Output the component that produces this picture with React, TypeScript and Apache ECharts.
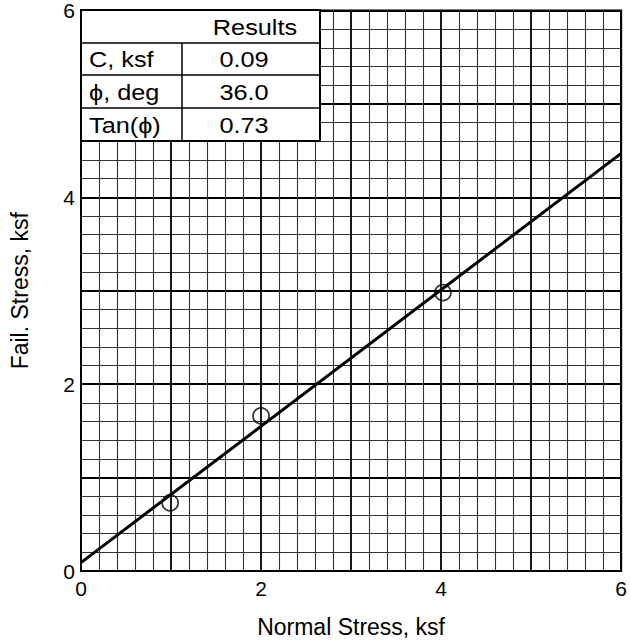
import React, { useEffect, useRef } from "react";
import * as echarts from "echarts";

const FONT = "'Liberation Sans', Arial, Helvetica, sans-serif";

// Test points (normal stress, failure stress), ksf
const pointX = [0.99, 2.0, 4.02];
const pointY = [0.73, 1.66, 2.98];

// Fitted envelope end points
const fitX = [0, 6];
const fitY = [0.09, 4.47];

// Results table
const tableHeader = "Results";
const tableLabels = ["C, ksf", "\u03d5, deg", "Tan(\u03d5)"];
const tableValues = ["0.09", "36.0", "0.73"];

const xTickLabels = ["0", "2", "4", "6"];
const yTickLabels = ["0", "2", "4", "6"];

export default function App() {
  const ref = useRef<HTMLDivElement>(null);

  useEffect(() => {
    document.body.style.margin = "0";
    if (!ref.current) return;
    const chart = echarts.init(ref.current, null, { renderer: "svg" });

    const gridLeft = 81;
    const gridTop = 10;
    const tw = 239;
    const th = 131;
    const colX = 101;
    const rowY = [0, 33, 65, 98, 131];
    const Z = 100;

    const tableChildren: any[] = [
      {
        type: "rect",
        z: Z,
        shape: { x: 0, y: 0, width: tw, height: th },
        style: { fill: "#fff", stroke: "#000", lineWidth: 2 },
      },
    ];
    for (let i = 1; i < 4; i++) {
      tableChildren.push({
        type: "line",
        z: Z + 1,
        shape: { x1: 0, y1: rowY[i], x2: tw, y2: rowY[i] },
        style: { stroke: "#000", lineWidth: 1.5 },
      });
    }
    tableChildren.push({
      type: "line",
      z: Z + 1,
      shape: { x1: colX, y1: rowY[1], x2: colX, y2: th },
      style: { stroke: "#000", lineWidth: 1.5 },
    });
    tableChildren.push({
      type: "text",
      z: Z + 2,
      x: 174,
      y: (rowY[0] + rowY[1]) / 2 + 1,
      scaleX: 1.15,
      style: {
        text: tableHeader,
        font: `22px ${FONT}`,
        fill: "#000",
        align: "center",
        verticalAlign: "middle",
      },
    });
    tableLabels.forEach((lab, i) => {
      const cy = (rowY[i + 1] + rowY[i + 2]) / 2 + 1;
      tableChildren.push({
        type: "text",
        z: Z + 2,
        x: 8,
        y: cy,
        scaleX: 1.15,
        style: {
          text: lab,
          font: `22px ${FONT}`,
          fill: "#000",
          align: "left",
          verticalAlign: "middle",
        },
      });
      tableChildren.push({
        type: "text",
        z: Z + 2,
        x: 163,
        y: cy,
        scaleX: 1.15,
        style: {
          text: tableValues[i],
          font: `22px ${FONT}`,
          fill: "#000",
          align: "center",
          verticalAlign: "middle",
        },
      });
    });

    const axisCommon = {
      type: "value" as const,
      min: 0,
      max: 6,
      interval: 1,
      axisLine: { show: true, lineStyle: { color: "#000", width: 2 } },
      axisTick: { show: false },
      splitLine: { show: true, lineStyle: { color: "#000", width: 1.8 } },
      minorTick: { show: false, splitNumber: 5 },
      minorSplitLine: { show: true, lineStyle: { color: "#333", width: 1.1 } },
      nameLocation: "middle" as const,
      nameTextStyle: { fontFamily: FONT, fontSize: 23, color: "#000" },
    };

    chart.setOption({
      animation: false,
      backgroundColor: "#fff",
      grid: {
        left: gridLeft,
        right: 3,
        top: gridTop,
        bottom: 70,
        show: true,
        borderColor: "#000",
        borderWidth: 2,
        backgroundColor: "transparent",
      },
      xAxis: {
        ...axisCommon,
        name: "Normal Stress, ksf",
        nameGap: 44,
        axisLabel: {
          fontFamily: FONT,
          fontSize: 21,
          color: "#000",
          margin: 7,
          formatter: (v: number) => {
            const s = String(v);
            return xTickLabels.includes(s) ? s : "";
          },
        },
      },
      yAxis: {
        ...axisCommon,
        name: "Fail. Stress, ksf",
        nameGap: 50,
        axisLabel: {
          fontFamily: FONT,
          fontSize: 21,
          color: "#000",
          margin: 6,
          formatter: (v: number) => {
            const s = String(v);
            return yTickLabels.includes(s) ? s : "";
          },
        },
      },
      series: [
        {
          type: "line",
          data: fitX.map((x, i) => [x, fitY[i]]),
          showSymbol: false,
          lineStyle: { color: "#000", width: 3 },
          z: 3,
        },
        {
          type: "scatter",
          data: pointX.map((x, i) => [x, pointY[i]]),
          symbol: "circle",
          symbolSize: 16,
          itemStyle: { color: "rgba(255,255,255,0)", borderColor: "#000", borderWidth: 1.7 },
          z: 4,
        },
      ],
      graphic: [
        {
          type: "group",
          x: gridLeft,
          y: gridTop,
          z: Z,
          children: tableChildren,
        },
      ],
    });

    return () => chart.dispose();
  }, []);

  return <div ref={ref} style={{ width: 630, height: 643 }} />;
}
